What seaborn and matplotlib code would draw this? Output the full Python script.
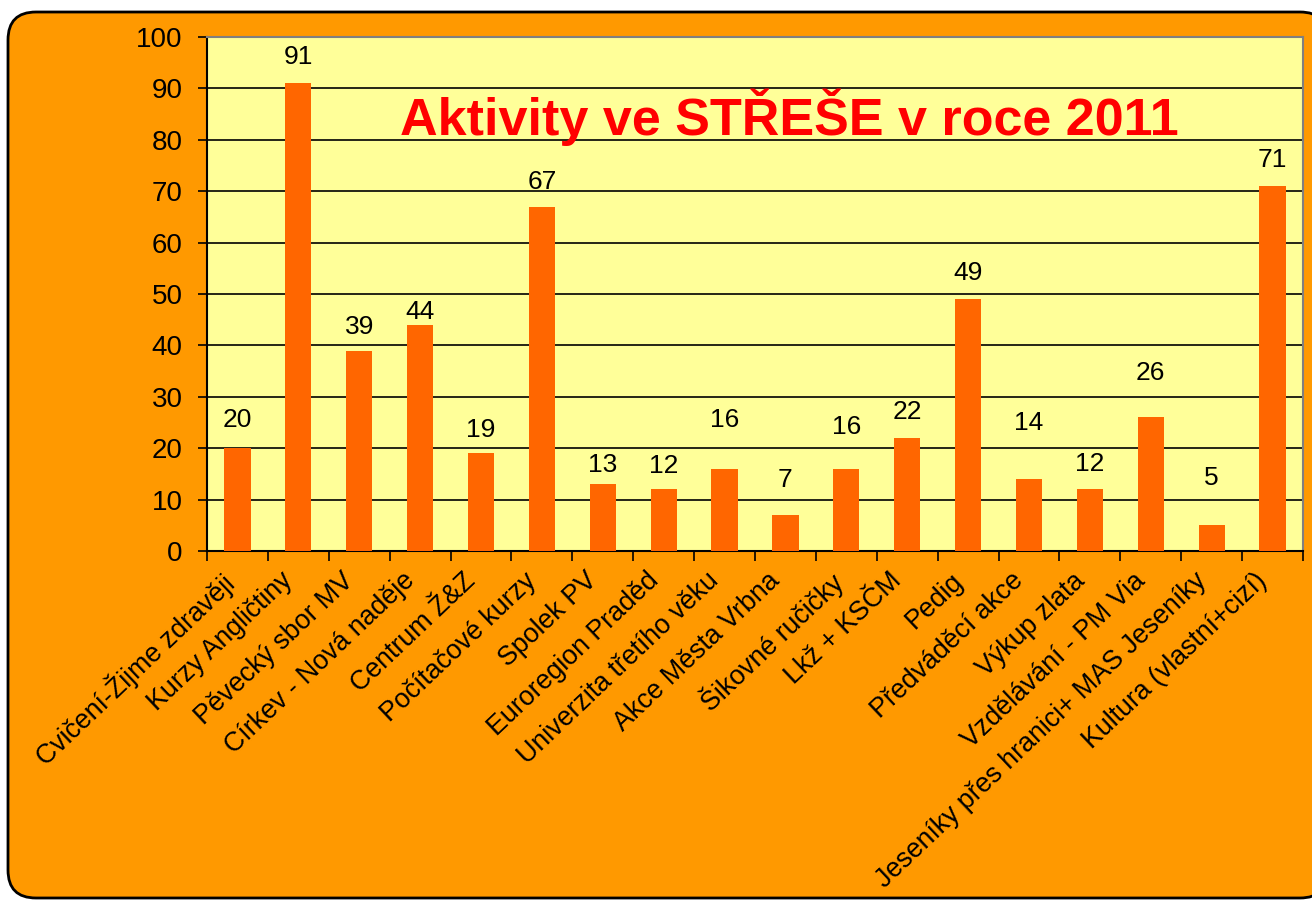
import matplotlib
matplotlib.use("Agg")
import matplotlib.pyplot as plt
import seaborn as sns
import pandas as pd
from matplotlib.patches import FancyBboxPatch
from matplotlib.transforms import IdentityTransform, ScaledTranslation

categories = [
    "Cvičení-Žijme zdravěji", "Kurzy Angličtiny", "Pěvecký sbor MV",
    "Církev - Nová naděje", "Centrum Ž&Z", "Počítačové kurzy", "Spolek PV",
    "Euroregion Praděd", "Univerzita třetího věku", "Akce Města Vrbna",
    "Šikovné ručičky", "Lkž + KSČM", "Pedig", "Předváděcí akce",
    "Výkup zlata", "Vzdělávání - PM Via", "Jeseníky přes hranici+ MAS Jeseníky",
    "Kultura (vlastní+cizí)",
]
values = [20, 91, 39, 44, 19, 67, 13, 12, 16, 7, 16, 22, 49, 14, 12, 26, 5, 71]
title = "Aktivity ve STŘEŠE v roce 2011"
y_ticks = [0, 10, 20, 30, 40, 50, 60, 70, 80, 90, 100]
# vertical gap (in points) between bar top and the centre of its value label
label_gaps = [20, 19, 17, 9, 17, 18, 14, 17, 35, 25, 30, 19, 19, 40, 18, 32, 34, 19]

sns.set_theme(style="white")
plt.rcParams["font.family"] = ["Liberation Sans", "DejaVu Sans"]

fig = plt.figure(figsize=(13.12, 9.0), dpi=100)
fig.patch.set_facecolor("white")

box = FancyBboxPatch((8, 2), 1320, 886, boxstyle="round,pad=0,rounding_size=28",
                     transform=IdentityTransform(), facecolor="#FF9900",
                     edgecolor="black", linewidth=2, zorder=-10)
fig.patches.append(box)

ax = fig.add_axes([207 / 1312, 1 - 551 / 900, (1303 - 207) / 1312, (551 - 37) / 900])
ax.set_zorder(5)
ax.set_facecolor("#FFFF99")

df = pd.DataFrame({"cat": categories, "val": values})
sns.barplot(data=df, x="cat", y="val", color="#FF6600", saturation=1,
            width=0.43, linewidth=0, ax=ax, zorder=3)

ax.set_xlim(-0.5, len(categories) - 0.5)
ax.set_ylim(0, 100)
ax.set_yticks(y_ticks)
ax.set_yticklabels([str(t) for t in y_ticks], fontsize=20, color="black")
ax.yaxis.grid(True, color="black", linewidth=1.2, zorder=1)
ax.set_axisbelow(True)
ax.set_xlabel("")
ax.set_ylabel("")

# boundary ticks between categories
ax.set_xticks([i - 0.5 for i in range(len(categories) + 1)], minor=True)
ax.tick_params(axis="x", which="minor", direction="out", length=7, width=1.2,
               color="black", bottom=True)
ax.tick_params(axis="y", which="major", direction="out", length=6.5, width=1.2,
               color="black", left=True, pad=11)

n = len(categories)
ax.set_xticks(range(n))
ax.set_xticklabels(categories, rotation=43.5, ha="right", va="top",
                   rotation_mode="anchor", fontsize=19.3, color="black")
ax.tick_params(axis="x", which="major", length=0, pad=12)
for lab in ax.get_xticklabels():
    lab.set_transform(lab.get_transform() + ScaledTranslation(-0.18, 0, fig.dpi_scale_trans))

for s in ["left", "bottom"]:
    ax.spines[s].set_color("black")
    ax.spines[s].set_linewidth(1.5)
for s in ["top", "right"]:
    ax.spines[s].set_color("#808080")
    ax.spines[s].set_linewidth(1.5)

for i, (v, g) in enumerate(zip(values, label_gaps)):
    ax.annotate(str(v), xy=(i, v), xytext=(0, g), textcoords="offset points",
                ha="center", va="center", fontsize=19, color="black", zorder=5)

ax.text(0.531, 0.844, title, transform=ax.transAxes, ha="center", va="center",
        fontsize=37.5, fontweight="bold", color="#FF0000", zorder=6)

fig.savefig("out.png", dpi=100, facecolor="white")
